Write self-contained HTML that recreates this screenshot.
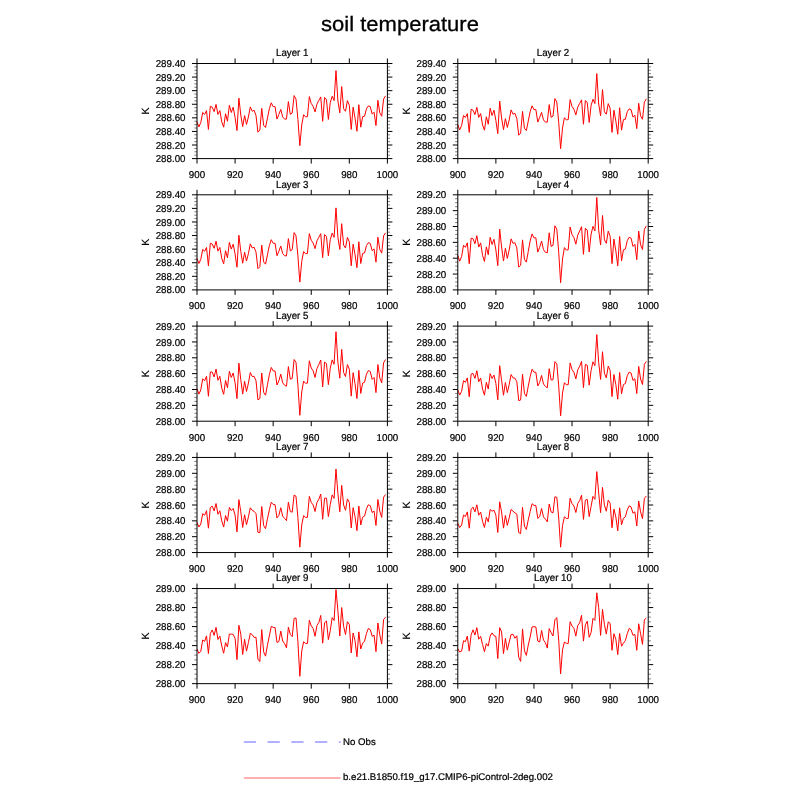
<!DOCTYPE html>
<html><head><meta charset="utf-8"><title>soil temperature</title>
<style>html,body{margin:0;padding:0;background:#fff}svg{display:block}text{text-rendering:geometricPrecision;font-family:"Liberation Sans",Arial,Helvetica,sans-serif;fill:#000}</style>
</head><body>
<svg width="800" height="800" viewBox="0 0 800 800">
<rect width="800" height="800" fill="#fff"/>
<text transform="translate(400,31.0) scale(1.058,1)" font-size="20.8" text-anchor="middle" stroke="#000" stroke-width="0.3">soil temperature</text>
<g>
<polyline points="197.00,121.60 198.90,126.90 200.81,122.50 202.71,112.50 204.62,114.40 206.52,110.60 208.42,129.40 210.33,106.25 212.23,107.20 214.14,111.60 216.04,104.40 217.94,114.40 219.85,110.60 221.75,121.90 223.66,127.20 225.56,113.75 227.46,121.25 229.37,105.30 231.27,112.50 233.18,107.20 235.08,117.50 236.98,130.60 238.89,98.10 240.79,115.00 242.70,126.60 244.60,115.60 246.50,124.40 248.41,116.90 250.31,106.90 252.22,111.25 254.12,110.30 256.02,115.60 257.93,132.20 259.83,130.00 261.74,108.40 263.64,125.30 265.54,127.50 267.45,118.10 269.35,108.75 271.26,102.80 273.16,106.60 275.06,106.60 276.97,119.10 278.87,114.40 280.78,109.40 282.68,116.90 284.58,119.10 286.49,119.10 288.39,101.60 290.30,114.40 292.20,113.00 294.10,95.60 296.01,99.10 297.91,119.40 299.82,145.70 301.72,125.00 303.62,114.70 305.53,116.90 307.43,116.60 309.34,96.60 311.24,103.50 313.14,106.25 315.05,111.90 316.95,104.10 318.86,100.40 320.76,96.90 322.66,121.25 324.57,97.50 326.47,99.70 328.38,119.40 330.28,102.50 332.18,96.25 334.09,100.60 335.99,70.60 337.90,101.00 339.80,112.80 341.70,86.60 343.61,108.75 345.51,111.25 347.42,100.60 349.32,105.30 351.22,129.40 353.13,107.20 355.03,118.10 356.94,131.25 358.84,104.70 360.74,127.20 362.65,116.60 364.55,116.25 366.46,108.75 368.36,105.90 370.26,106.60 372.17,114.10 374.07,112.20 375.98,125.60 377.88,100.30 379.78,112.80 381.69,116.25 383.59,99.10 385.50,95.90" fill="none" stroke="#f00" stroke-width="1" stroke-linejoin="miter"/>
<path d="M194.30 155.20H197.00M387.40 155.20H390.10M194.30 151.81H197.00M387.40 151.81H390.10M194.30 148.41H197.00M387.40 148.41H390.10M194.30 141.62H197.00M387.40 141.62H390.10M194.30 138.22H197.00M387.40 138.22H390.10M194.30 134.82H197.00M387.40 134.82H390.10M194.30 128.03H197.00M387.40 128.03H390.10M194.30 124.64H197.00M387.40 124.64H390.10M194.30 121.24H197.00M387.40 121.24H390.10M194.30 114.45H197.00M387.40 114.45H390.10M194.30 111.05H197.00M387.40 111.05H390.10M194.30 107.65H197.00M387.40 107.65H390.10M194.30 100.86H197.00M387.40 100.86H390.10M194.30 97.46H197.00M387.40 97.46H390.10M194.30 94.07H197.00M387.40 94.07H390.10M194.30 87.27H197.00M387.40 87.27H390.10M194.30 83.88H197.00M387.40 83.88H390.10M194.30 80.48H197.00M387.40 80.48H390.10M194.30 73.69H197.00M387.40 73.69H390.10M194.30 70.29H197.00M387.40 70.29H390.10M194.30 66.90H197.00M387.40 66.90H390.10" stroke="#000" stroke-width="0.5" fill="none"/>
<path d="M192.00 158.60H197.00M387.40 158.60H392.40M192.00 145.01H197.00M387.40 145.01H392.40M192.00 131.43H197.00M387.40 131.43H392.40M192.00 117.84H197.00M387.40 117.84H392.40M192.00 104.26H197.00M387.40 104.26H392.40M192.00 90.67H197.00M387.40 90.67H392.40M192.00 77.09H197.00M387.40 77.09H392.40M192.00 63.50H197.00M387.40 63.50H392.40M197.00 58.50V63.50M197.00 158.60V163.60M235.08 58.50V63.50M235.08 158.60V163.60M273.16 58.50V63.50M273.16 158.60V163.60M311.24 58.50V63.50M311.24 158.60V163.60M349.32 58.50V63.50M349.32 158.60V163.60M387.40 58.50V63.50M387.40 158.60V163.60" stroke="#000" stroke-width="1" fill="none"/>
<rect x="197.00" y="63.50" width="190.40" height="95.10" fill="none" stroke="#000" stroke-width="1"/>
<text transform="translate(185.50,162.15) scale(0.975,1)" font-size="10" text-anchor="end" stroke="#000" stroke-width="0.22">288.00</text>
<text transform="translate(185.50,148.56) scale(0.975,1)" font-size="10" text-anchor="end" stroke="#000" stroke-width="0.22">288.20</text>
<text transform="translate(185.50,134.98) scale(0.975,1)" font-size="10" text-anchor="end" stroke="#000" stroke-width="0.22">288.40</text>
<text transform="translate(185.50,121.39) scale(0.975,1)" font-size="10" text-anchor="end" stroke="#000" stroke-width="0.22">288.60</text>
<text transform="translate(185.50,107.81) scale(0.975,1)" font-size="10" text-anchor="end" stroke="#000" stroke-width="0.22">288.80</text>
<text transform="translate(185.50,94.22) scale(0.975,1)" font-size="10" text-anchor="end" stroke="#000" stroke-width="0.22">289.00</text>
<text transform="translate(185.50,80.64) scale(0.975,1)" font-size="10" text-anchor="end" stroke="#000" stroke-width="0.22">289.20</text>
<text transform="translate(185.50,67.05) scale(0.975,1)" font-size="10" text-anchor="end" stroke="#000" stroke-width="0.22">289.40</text>
<text transform="translate(197.00,177.90) scale(0.975,1)" font-size="10" text-anchor="middle" stroke="#000" stroke-width="0.22">900</text>
<text transform="translate(235.08,177.90) scale(0.975,1)" font-size="10" text-anchor="middle" stroke="#000" stroke-width="0.22">920</text>
<text transform="translate(273.16,177.90) scale(0.975,1)" font-size="10" text-anchor="middle" stroke="#000" stroke-width="0.22">940</text>
<text transform="translate(311.24,177.90) scale(0.975,1)" font-size="10" text-anchor="middle" stroke="#000" stroke-width="0.22">960</text>
<text transform="translate(349.32,177.90) scale(0.975,1)" font-size="10" text-anchor="middle" stroke="#000" stroke-width="0.22">980</text>
<text transform="translate(387.40,177.90) scale(0.975,1)" font-size="10" text-anchor="middle" stroke="#000" stroke-width="0.22">1000</text>
<text transform="translate(292.20,56.20) scale(0.955,1)" font-size="10.2" text-anchor="middle" stroke="#000" stroke-width="0.22">Layer 1</text>
<text transform="translate(149.00,111.05) rotate(-90)" font-size="10.5" text-anchor="middle" stroke="#000" stroke-width="0.1">K</text>
</g>
<g>
<polyline points="457.80,124.60 459.70,129.90 461.61,125.50 463.51,115.50 465.42,117.40 467.32,113.60 469.22,132.40 471.13,109.25 473.03,110.20 474.94,114.60 476.84,107.40 478.74,117.40 480.65,113.60 482.55,124.90 484.46,130.20 486.36,116.75 488.26,124.25 490.17,108.30 492.07,115.50 493.98,110.20 495.88,120.50 497.78,133.60 499.69,101.10 501.59,118.00 503.50,129.60 505.40,118.60 507.30,127.40 509.21,119.90 511.11,109.90 513.02,114.25 514.92,113.30 516.82,118.60 518.73,135.20 520.63,133.00 522.54,111.40 524.44,128.30 526.34,130.50 528.25,121.10 530.15,111.75 532.06,105.80 533.96,109.60 535.86,109.60 537.77,122.10 539.67,117.40 541.58,112.40 543.48,119.90 545.38,122.10 547.29,122.10 549.19,104.60 551.10,117.40 553.00,116.00 554.90,98.60 556.81,102.10 558.71,122.40 560.62,148.70 562.52,128.00 564.42,117.70 566.33,119.90 568.23,119.60 570.14,99.60 572.04,106.50 573.94,109.25 575.85,114.90 577.75,107.10 579.66,103.40 581.56,99.90 583.46,124.25 585.37,100.50 587.27,102.70 589.18,122.40 591.08,105.50 592.98,99.25 594.89,103.60 596.79,73.60 598.70,104.00 600.60,115.80 602.50,89.60 604.41,111.75 606.31,114.25 608.22,103.60 610.12,108.30 612.02,132.40 613.93,110.20 615.83,121.10 617.74,134.25 619.64,107.70 621.54,130.20 623.45,119.60 625.35,119.25 627.26,111.75 629.16,108.90 631.06,109.60 632.97,117.10 634.87,115.20 636.78,128.60 638.68,103.30 640.58,115.80 642.49,119.25 644.39,102.10 646.30,98.90" fill="none" stroke="#f00" stroke-width="1" stroke-linejoin="miter"/>
<path d="M455.10 155.20H457.80M648.20 155.20H650.90M455.10 151.81H457.80M648.20 151.81H650.90M455.10 148.41H457.80M648.20 148.41H650.90M455.10 141.62H457.80M648.20 141.62H650.90M455.10 138.22H457.80M648.20 138.22H650.90M455.10 134.82H457.80M648.20 134.82H650.90M455.10 128.03H457.80M648.20 128.03H650.90M455.10 124.64H457.80M648.20 124.64H650.90M455.10 121.24H457.80M648.20 121.24H650.90M455.10 114.45H457.80M648.20 114.45H650.90M455.10 111.05H457.80M648.20 111.05H650.90M455.10 107.65H457.80M648.20 107.65H650.90M455.10 100.86H457.80M648.20 100.86H650.90M455.10 97.46H457.80M648.20 97.46H650.90M455.10 94.07H457.80M648.20 94.07H650.90M455.10 87.27H457.80M648.20 87.27H650.90M455.10 83.88H457.80M648.20 83.88H650.90M455.10 80.48H457.80M648.20 80.48H650.90M455.10 73.69H457.80M648.20 73.69H650.90M455.10 70.29H457.80M648.20 70.29H650.90M455.10 66.90H457.80M648.20 66.90H650.90" stroke="#000" stroke-width="0.5" fill="none"/>
<path d="M452.80 158.60H457.80M648.20 158.60H653.20M452.80 145.01H457.80M648.20 145.01H653.20M452.80 131.43H457.80M648.20 131.43H653.20M452.80 117.84H457.80M648.20 117.84H653.20M452.80 104.26H457.80M648.20 104.26H653.20M452.80 90.67H457.80M648.20 90.67H653.20M452.80 77.09H457.80M648.20 77.09H653.20M452.80 63.50H457.80M648.20 63.50H653.20M457.80 58.50V63.50M457.80 158.60V163.60M495.88 58.50V63.50M495.88 158.60V163.60M533.96 58.50V63.50M533.96 158.60V163.60M572.04 58.50V63.50M572.04 158.60V163.60M610.12 58.50V63.50M610.12 158.60V163.60M648.20 58.50V63.50M648.20 158.60V163.60" stroke="#000" stroke-width="1" fill="none"/>
<rect x="457.80" y="63.50" width="190.40" height="95.10" fill="none" stroke="#000" stroke-width="1"/>
<text transform="translate(446.30,162.15) scale(0.975,1)" font-size="10" text-anchor="end" stroke="#000" stroke-width="0.22">288.00</text>
<text transform="translate(446.30,148.56) scale(0.975,1)" font-size="10" text-anchor="end" stroke="#000" stroke-width="0.22">288.20</text>
<text transform="translate(446.30,134.98) scale(0.975,1)" font-size="10" text-anchor="end" stroke="#000" stroke-width="0.22">288.40</text>
<text transform="translate(446.30,121.39) scale(0.975,1)" font-size="10" text-anchor="end" stroke="#000" stroke-width="0.22">288.60</text>
<text transform="translate(446.30,107.81) scale(0.975,1)" font-size="10" text-anchor="end" stroke="#000" stroke-width="0.22">288.80</text>
<text transform="translate(446.30,94.22) scale(0.975,1)" font-size="10" text-anchor="end" stroke="#000" stroke-width="0.22">289.00</text>
<text transform="translate(446.30,80.64) scale(0.975,1)" font-size="10" text-anchor="end" stroke="#000" stroke-width="0.22">289.20</text>
<text transform="translate(446.30,67.05) scale(0.975,1)" font-size="10" text-anchor="end" stroke="#000" stroke-width="0.22">289.40</text>
<text transform="translate(457.80,177.90) scale(0.975,1)" font-size="10" text-anchor="middle" stroke="#000" stroke-width="0.22">900</text>
<text transform="translate(495.88,177.90) scale(0.975,1)" font-size="10" text-anchor="middle" stroke="#000" stroke-width="0.22">920</text>
<text transform="translate(533.96,177.90) scale(0.975,1)" font-size="10" text-anchor="middle" stroke="#000" stroke-width="0.22">940</text>
<text transform="translate(572.04,177.90) scale(0.975,1)" font-size="10" text-anchor="middle" stroke="#000" stroke-width="0.22">960</text>
<text transform="translate(610.12,177.90) scale(0.975,1)" font-size="10" text-anchor="middle" stroke="#000" stroke-width="0.22">980</text>
<text transform="translate(648.20,177.90) scale(0.975,1)" font-size="10" text-anchor="middle" stroke="#000" stroke-width="0.22">1000</text>
<text transform="translate(553.00,56.20) scale(0.955,1)" font-size="10.2" text-anchor="middle" stroke="#000" stroke-width="0.22">Layer 2</text>
<text transform="translate(409.80,111.05) rotate(-90)" font-size="10.5" text-anchor="middle" stroke="#000" stroke-width="0.1">K</text>
</g>
<g>
<polyline points="197.00,258.32 198.90,263.47 200.81,259.26 202.71,249.40 204.62,251.24 206.52,247.42 208.42,265.80 210.33,243.25 212.23,243.97 214.14,248.33 216.04,241.23 217.94,251.14 219.85,247.44 221.75,258.45 223.66,263.74 225.56,250.69 227.46,257.89 229.37,242.40 231.27,249.11 233.18,244.19 235.08,253.97 236.98,267.22 238.89,235.26 240.79,251.44 242.70,263.24 244.60,252.25 246.50,261.03 248.41,253.62 250.31,243.86 252.22,247.97 254.12,247.22 256.02,252.15 257.93,268.69 259.83,266.75 261.74,245.07 263.64,261.90 265.54,264.16 267.45,254.87 269.35,245.71 271.26,239.69 273.16,243.28 275.06,243.29 276.97,255.67 278.87,251.25 280.78,246.07 282.68,253.54 284.58,255.72 286.49,255.93 288.39,238.62 290.30,250.89 292.20,249.70 294.10,232.60 296.01,235.83 297.91,255.91 299.82,282.10 301.72,261.59 303.62,251.53 305.53,253.66 307.43,253.39 309.34,233.62 311.24,240.32 313.14,243.01 315.05,248.66 316.95,240.86 318.86,237.26 320.76,233.66 322.66,257.70 324.57,234.59 326.47,236.54 328.38,255.81 330.28,239.62 332.18,233.16 334.09,237.36 335.99,207.90 337.90,237.26 339.80,249.48 341.70,223.68 343.61,245.23 345.51,247.97 347.42,237.42 349.32,241.93 351.22,265.77 353.13,244.11 355.03,254.64 356.94,267.68 358.84,241.73 360.74,263.53 362.65,253.37 364.55,252.95 366.46,245.58 368.36,242.68 370.26,243.39 372.17,250.71 374.07,248.88 375.98,262.17 377.88,237.20 379.78,249.42 381.69,253.09 383.59,235.91 385.50,232.82" fill="none" stroke="#f00" stroke-width="1" stroke-linejoin="miter"/>
<path d="M194.30 286.50H197.00M387.40 286.50H390.10M194.30 283.11H197.00M387.40 283.11H390.10M194.30 279.71H197.00M387.40 279.71H390.10M194.30 272.92H197.00M387.40 272.92H390.10M194.30 269.52H197.00M387.40 269.52H390.10M194.30 266.12H197.00M387.40 266.12H390.10M194.30 259.33H197.00M387.40 259.33H390.10M194.30 255.94H197.00M387.40 255.94H390.10M194.30 252.54H197.00M387.40 252.54H390.10M194.30 245.75H197.00M387.40 245.75H390.10M194.30 242.35H197.00M387.40 242.35H390.10M194.30 238.95H197.00M387.40 238.95H390.10M194.30 232.16H197.00M387.40 232.16H390.10M194.30 228.76H197.00M387.40 228.76H390.10M194.30 225.37H197.00M387.40 225.37H390.10M194.30 218.57H197.00M387.40 218.57H390.10M194.30 215.18H197.00M387.40 215.18H390.10M194.30 211.78H197.00M387.40 211.78H390.10M194.30 204.99H197.00M387.40 204.99H390.10M194.30 201.59H197.00M387.40 201.59H390.10M194.30 198.20H197.00M387.40 198.20H390.10" stroke="#000" stroke-width="0.5" fill="none"/>
<path d="M192.00 289.90H197.00M387.40 289.90H392.40M192.00 276.31H197.00M387.40 276.31H392.40M192.00 262.73H197.00M387.40 262.73H392.40M192.00 249.14H197.00M387.40 249.14H392.40M192.00 235.56H197.00M387.40 235.56H392.40M192.00 221.97H197.00M387.40 221.97H392.40M192.00 208.39H197.00M387.40 208.39H392.40M192.00 194.80H197.00M387.40 194.80H392.40M197.00 189.80V194.80M197.00 289.90V294.90M235.08 189.80V194.80M235.08 289.90V294.90M273.16 189.80V194.80M273.16 289.90V294.90M311.24 189.80V194.80M311.24 289.90V294.90M349.32 189.80V194.80M349.32 289.90V294.90M387.40 189.80V194.80M387.40 289.90V294.90" stroke="#000" stroke-width="1" fill="none"/>
<rect x="197.00" y="194.80" width="190.40" height="95.10" fill="none" stroke="#000" stroke-width="1"/>
<text transform="translate(185.50,293.45) scale(0.975,1)" font-size="10" text-anchor="end" stroke="#000" stroke-width="0.22">288.00</text>
<text transform="translate(185.50,279.86) scale(0.975,1)" font-size="10" text-anchor="end" stroke="#000" stroke-width="0.22">288.20</text>
<text transform="translate(185.50,266.28) scale(0.975,1)" font-size="10" text-anchor="end" stroke="#000" stroke-width="0.22">288.40</text>
<text transform="translate(185.50,252.69) scale(0.975,1)" font-size="10" text-anchor="end" stroke="#000" stroke-width="0.22">288.60</text>
<text transform="translate(185.50,239.11) scale(0.975,1)" font-size="10" text-anchor="end" stroke="#000" stroke-width="0.22">288.80</text>
<text transform="translate(185.50,225.52) scale(0.975,1)" font-size="10" text-anchor="end" stroke="#000" stroke-width="0.22">289.00</text>
<text transform="translate(185.50,211.94) scale(0.975,1)" font-size="10" text-anchor="end" stroke="#000" stroke-width="0.22">289.20</text>
<text transform="translate(185.50,198.35) scale(0.975,1)" font-size="10" text-anchor="end" stroke="#000" stroke-width="0.22">289.40</text>
<text transform="translate(197.00,309.20) scale(0.975,1)" font-size="10" text-anchor="middle" stroke="#000" stroke-width="0.22">900</text>
<text transform="translate(235.08,309.20) scale(0.975,1)" font-size="10" text-anchor="middle" stroke="#000" stroke-width="0.22">920</text>
<text transform="translate(273.16,309.20) scale(0.975,1)" font-size="10" text-anchor="middle" stroke="#000" stroke-width="0.22">940</text>
<text transform="translate(311.24,309.20) scale(0.975,1)" font-size="10" text-anchor="middle" stroke="#000" stroke-width="0.22">960</text>
<text transform="translate(349.32,309.20) scale(0.975,1)" font-size="10" text-anchor="middle" stroke="#000" stroke-width="0.22">980</text>
<text transform="translate(387.40,309.20) scale(0.975,1)" font-size="10" text-anchor="middle" stroke="#000" stroke-width="0.22">1000</text>
<text transform="translate(292.20,187.50) scale(0.955,1)" font-size="10.2" text-anchor="middle" stroke="#000" stroke-width="0.22">Layer 3</text>
<text transform="translate(149.00,242.35) rotate(-90)" font-size="10.5" text-anchor="middle" stroke="#000" stroke-width="0.1">K</text>
</g>
<g>
<polyline points="457.80,255.40 459.70,261.19 461.61,256.57 463.51,245.25 465.42,247.30 467.32,242.84 469.22,263.69 471.13,238.23 473.03,238.73 474.94,243.78 476.84,235.63 478.74,247.06 480.65,242.87 482.55,255.31 484.46,261.47 486.36,246.82 488.26,254.79 490.17,237.37 492.07,244.49 493.98,239.30 495.88,249.99 497.78,265.65 499.69,229.13 501.59,246.99 503.50,261.04 505.40,248.22 507.30,258.43 509.21,249.91 511.11,238.87 513.02,243.33 514.92,242.74 516.82,247.97 518.73,267.17 520.63,265.30 522.54,239.88 524.44,259.42 526.34,262.14 528.25,251.45 530.15,241.02 532.06,233.92 533.96,237.81 535.86,237.84 537.77,252.09 539.67,247.33 541.58,241.06 543.48,249.73 545.38,252.24 547.29,252.77 549.19,232.83 551.10,246.43 553.00,245.31 554.90,225.80 556.81,229.19 558.71,252.31 560.62,282.70 562.52,259.03 564.42,247.64 566.33,250.04 568.23,249.76 570.14,227.01 572.04,234.55 573.94,237.60 575.85,244.18 577.75,235.11 579.66,231.05 581.56,226.70 583.46,254.31 585.37,228.24 587.27,230.16 589.18,252.04 591.08,234.15 592.98,226.33 594.89,231.00 596.79,197.40 598.70,230.18 600.60,245.05 602.50,215.51 604.41,239.81 606.31,243.32 608.22,231.16 610.12,236.15 612.02,263.61 613.93,239.11 615.83,250.87 617.74,265.93 619.64,236.50 621.54,260.95 623.45,249.71 625.35,249.11 627.26,240.71 629.16,237.25 631.06,238.10 632.97,246.38 634.87,244.33 636.78,259.69 638.68,231.03 640.58,244.89 642.49,249.47 644.39,229.40 646.30,225.94" fill="none" stroke="#f00" stroke-width="1" stroke-linejoin="miter"/>
<path d="M455.10 285.94H457.80M648.20 285.94H650.90M455.10 281.97H457.80M648.20 281.97H650.90M455.10 278.01H457.80M648.20 278.01H650.90M455.10 270.09H457.80M648.20 270.09H650.90M455.10 266.12H457.80M648.20 266.12H650.90M455.10 262.16H457.80M648.20 262.16H650.90M455.10 254.24H457.80M648.20 254.24H650.90M455.10 250.27H457.80M648.20 250.27H650.90M455.10 246.31H457.80M648.20 246.31H650.90M455.10 238.39H457.80M648.20 238.39H650.90M455.10 234.42H457.80M648.20 234.42H650.90M455.10 230.46H457.80M648.20 230.46H650.90M455.10 222.54H457.80M648.20 222.54H650.90M455.10 218.57H457.80M648.20 218.57H650.90M455.10 214.61H457.80M648.20 214.61H650.90M455.10 206.69H457.80M648.20 206.69H650.90M455.10 202.72H457.80M648.20 202.72H650.90M455.10 198.76H457.80M648.20 198.76H650.90" stroke="#000" stroke-width="0.5" fill="none"/>
<path d="M452.80 289.90H457.80M648.20 289.90H653.20M452.80 274.05H457.80M648.20 274.05H653.20M452.80 258.20H457.80M648.20 258.20H653.20M452.80 242.35H457.80M648.20 242.35H653.20M452.80 226.50H457.80M648.20 226.50H653.20M452.80 210.65H457.80M648.20 210.65H653.20M452.80 194.80H457.80M648.20 194.80H653.20M457.80 189.80V194.80M457.80 289.90V294.90M495.88 189.80V194.80M495.88 289.90V294.90M533.96 189.80V194.80M533.96 289.90V294.90M572.04 189.80V194.80M572.04 289.90V294.90M610.12 189.80V194.80M610.12 289.90V294.90M648.20 189.80V194.80M648.20 289.90V294.90" stroke="#000" stroke-width="1" fill="none"/>
<rect x="457.80" y="194.80" width="190.40" height="95.10" fill="none" stroke="#000" stroke-width="1"/>
<text transform="translate(446.30,293.45) scale(0.975,1)" font-size="10" text-anchor="end" stroke="#000" stroke-width="0.22">288.00</text>
<text transform="translate(446.30,277.60) scale(0.975,1)" font-size="10" text-anchor="end" stroke="#000" stroke-width="0.22">288.20</text>
<text transform="translate(446.30,261.75) scale(0.975,1)" font-size="10" text-anchor="end" stroke="#000" stroke-width="0.22">288.40</text>
<text transform="translate(446.30,245.90) scale(0.975,1)" font-size="10" text-anchor="end" stroke="#000" stroke-width="0.22">288.60</text>
<text transform="translate(446.30,230.05) scale(0.975,1)" font-size="10" text-anchor="end" stroke="#000" stroke-width="0.22">288.80</text>
<text transform="translate(446.30,214.20) scale(0.975,1)" font-size="10" text-anchor="end" stroke="#000" stroke-width="0.22">289.00</text>
<text transform="translate(446.30,198.35) scale(0.975,1)" font-size="10" text-anchor="end" stroke="#000" stroke-width="0.22">289.20</text>
<text transform="translate(457.80,309.20) scale(0.975,1)" font-size="10" text-anchor="middle" stroke="#000" stroke-width="0.22">900</text>
<text transform="translate(495.88,309.20) scale(0.975,1)" font-size="10" text-anchor="middle" stroke="#000" stroke-width="0.22">920</text>
<text transform="translate(533.96,309.20) scale(0.975,1)" font-size="10" text-anchor="middle" stroke="#000" stroke-width="0.22">940</text>
<text transform="translate(572.04,309.20) scale(0.975,1)" font-size="10" text-anchor="middle" stroke="#000" stroke-width="0.22">960</text>
<text transform="translate(610.12,309.20) scale(0.975,1)" font-size="10" text-anchor="middle" stroke="#000" stroke-width="0.22">980</text>
<text transform="translate(648.20,309.20) scale(0.975,1)" font-size="10" text-anchor="middle" stroke="#000" stroke-width="0.22">1000</text>
<text transform="translate(553.00,187.50) scale(0.955,1)" font-size="10.2" text-anchor="middle" stroke="#000" stroke-width="0.22">Layer 4</text>
<text transform="translate(409.80,242.35) rotate(-90)" font-size="10.5" text-anchor="middle" stroke="#000" stroke-width="0.1">K</text>
</g>
<g>
<polyline points="197.00,388.59 198.90,394.11 200.81,389.85 202.71,378.79 204.62,380.72 206.52,376.24 208.42,396.29 210.33,371.97 212.23,372.02 214.14,377.01 216.04,369.04 217.94,380.31 219.85,376.29 221.75,388.19 223.66,394.33 225.56,380.44 227.46,387.85 229.37,371.30 231.27,377.48 233.18,373.01 235.08,382.73 236.98,398.66 238.89,363.17 240.79,379.66 242.70,394.09 244.60,381.29 246.50,391.46 248.41,383.11 250.31,372.53 252.22,376.53 254.12,376.32 256.02,380.85 257.93,399.93 259.83,398.57 261.74,372.99 263.64,392.40 265.54,395.23 267.45,384.74 269.35,374.67 271.26,367.45 273.16,370.94 275.06,370.99 276.97,385.01 278.87,380.77 280.78,374.17 282.68,382.79 284.58,385.26 286.49,386.18 288.39,366.60 290.30,379.20 292.20,378.47 294.10,359.53 296.01,362.43 297.91,385.12 299.82,415.30 301.72,391.98 303.62,381.05 305.53,383.32 307.43,383.09 309.34,360.78 311.24,367.95 313.14,370.88 315.05,377.46 316.95,368.39 318.86,364.53 320.76,359.99 322.66,387.01 324.57,362.14 326.47,363.59 328.38,384.65 330.28,368.10 332.18,359.90 334.09,364.28 335.99,331.70 337.90,362.51 339.80,378.18 341.70,349.40 343.61,372.56 345.51,376.52 347.42,364.54 349.32,369.18 351.22,396.15 353.13,372.68 355.03,383.74 356.94,398.60 358.84,370.29 360.74,393.42 362.65,383.01 364.55,382.27 366.46,374.13 368.36,370.57 370.26,371.44 372.17,379.38 374.07,377.45 375.98,392.61 377.88,364.57 379.78,377.90 381.69,382.90 383.59,362.78 385.50,359.53" fill="none" stroke="#f00" stroke-width="1" stroke-linejoin="miter"/>
<path d="M194.30 417.24H197.00M387.40 417.24H390.10M194.30 413.28H197.00M387.40 413.28H390.10M194.30 409.31H197.00M387.40 409.31H390.10M194.30 401.39H197.00M387.40 401.39H390.10M194.30 397.43H197.00M387.40 397.43H390.10M194.30 393.46H197.00M387.40 393.46H390.10M194.30 385.54H197.00M387.40 385.54H390.10M194.30 381.58H197.00M387.40 381.58H390.10M194.30 377.61H197.00M387.40 377.61H390.10M194.30 369.69H197.00M387.40 369.69H390.10M194.30 365.73H197.00M387.40 365.73H390.10M194.30 361.76H197.00M387.40 361.76H390.10M194.30 353.84H197.00M387.40 353.84H390.10M194.30 349.88H197.00M387.40 349.88H390.10M194.30 345.91H197.00M387.40 345.91H390.10M194.30 337.99H197.00M387.40 337.99H390.10M194.30 334.03H197.00M387.40 334.03H390.10M194.30 330.06H197.00M387.40 330.06H390.10" stroke="#000" stroke-width="0.5" fill="none"/>
<path d="M192.00 421.20H197.00M387.40 421.20H392.40M192.00 405.35H197.00M387.40 405.35H392.40M192.00 389.50H197.00M387.40 389.50H392.40M192.00 373.65H197.00M387.40 373.65H392.40M192.00 357.80H197.00M387.40 357.80H392.40M192.00 341.95H197.00M387.40 341.95H392.40M192.00 326.10H197.00M387.40 326.10H392.40M197.00 321.10V326.10M197.00 421.20V426.20M235.08 321.10V326.10M235.08 421.20V426.20M273.16 321.10V326.10M273.16 421.20V426.20M311.24 321.10V326.10M311.24 421.20V426.20M349.32 321.10V326.10M349.32 421.20V426.20M387.40 321.10V326.10M387.40 421.20V426.20" stroke="#000" stroke-width="1" fill="none"/>
<rect x="197.00" y="326.10" width="190.40" height="95.10" fill="none" stroke="#000" stroke-width="1"/>
<text transform="translate(185.50,424.75) scale(0.975,1)" font-size="10" text-anchor="end" stroke="#000" stroke-width="0.22">288.00</text>
<text transform="translate(185.50,408.90) scale(0.975,1)" font-size="10" text-anchor="end" stroke="#000" stroke-width="0.22">288.20</text>
<text transform="translate(185.50,393.05) scale(0.975,1)" font-size="10" text-anchor="end" stroke="#000" stroke-width="0.22">288.40</text>
<text transform="translate(185.50,377.20) scale(0.975,1)" font-size="10" text-anchor="end" stroke="#000" stroke-width="0.22">288.60</text>
<text transform="translate(185.50,361.35) scale(0.975,1)" font-size="10" text-anchor="end" stroke="#000" stroke-width="0.22">288.80</text>
<text transform="translate(185.50,345.50) scale(0.975,1)" font-size="10" text-anchor="end" stroke="#000" stroke-width="0.22">289.00</text>
<text transform="translate(185.50,329.65) scale(0.975,1)" font-size="10" text-anchor="end" stroke="#000" stroke-width="0.22">289.20</text>
<text transform="translate(197.00,440.50) scale(0.975,1)" font-size="10" text-anchor="middle" stroke="#000" stroke-width="0.22">900</text>
<text transform="translate(235.08,440.50) scale(0.975,1)" font-size="10" text-anchor="middle" stroke="#000" stroke-width="0.22">920</text>
<text transform="translate(273.16,440.50) scale(0.975,1)" font-size="10" text-anchor="middle" stroke="#000" stroke-width="0.22">940</text>
<text transform="translate(311.24,440.50) scale(0.975,1)" font-size="10" text-anchor="middle" stroke="#000" stroke-width="0.22">960</text>
<text transform="translate(349.32,440.50) scale(0.975,1)" font-size="10" text-anchor="middle" stroke="#000" stroke-width="0.22">980</text>
<text transform="translate(387.40,440.50) scale(0.975,1)" font-size="10" text-anchor="middle" stroke="#000" stroke-width="0.22">1000</text>
<text transform="translate(292.20,318.80) scale(0.955,1)" font-size="10.2" text-anchor="middle" stroke="#000" stroke-width="0.22">Layer 5</text>
<text transform="translate(149.00,373.65) rotate(-90)" font-size="10.5" text-anchor="middle" stroke="#000" stroke-width="0.1">K</text>
</g>
<g>
<polyline points="457.80,389.94 459.70,395.05 461.61,391.32 463.51,380.62 465.42,382.38 467.32,377.88 469.22,396.79 471.13,374.08 473.03,373.50 474.94,378.40 476.84,370.69 478.74,381.72 480.65,377.96 482.55,389.08 484.46,395.20 486.36,382.38 488.26,388.99 490.17,373.67 492.07,378.53 493.98,375.09 495.88,383.43 497.78,399.74 499.69,365.70 501.59,380.27 503.50,395.24 505.40,382.46 507.30,392.56 509.21,384.45 511.11,374.52 513.02,377.89 514.92,378.21 516.82,381.75 518.73,400.66 520.63,400.01 522.54,374.21 524.44,393.44 526.34,396.43 528.25,386.23 530.15,376.65 532.06,369.26 533.96,372.20 535.86,372.28 537.77,385.95 539.67,382.46 541.58,375.40 543.48,383.94 545.38,386.35 547.29,387.82 549.19,368.74 551.10,379.96 553.00,379.75 554.90,361.63 556.81,363.82 558.71,385.92 560.62,415.80 562.52,392.98 564.42,382.70 566.33,384.79 568.23,384.64 570.14,362.93 572.04,369.58 573.94,372.33 575.85,378.91 577.75,369.87 579.66,366.27 581.56,361.46 583.46,387.66 585.37,364.47 587.27,365.26 589.18,385.18 591.08,370.52 592.98,361.77 594.89,365.73 596.79,334.60 598.70,362.63 600.60,379.43 602.50,351.72 604.41,373.29 606.31,377.86 608.22,366.16 610.12,370.28 612.02,396.58 613.93,374.55 615.83,384.62 617.74,399.19 619.64,372.48 621.54,393.75 623.45,384.50 625.35,383.56 627.26,375.78 629.16,372.09 631.06,373.00 632.97,380.44 634.87,378.69 636.78,393.56 638.68,366.41 640.58,378.99 642.49,384.57 644.39,364.38 646.30,361.42" fill="none" stroke="#f00" stroke-width="1" stroke-linejoin="miter"/>
<path d="M455.10 417.24H457.80M648.20 417.24H650.90M455.10 413.28H457.80M648.20 413.28H650.90M455.10 409.31H457.80M648.20 409.31H650.90M455.10 401.39H457.80M648.20 401.39H650.90M455.10 397.43H457.80M648.20 397.43H650.90M455.10 393.46H457.80M648.20 393.46H650.90M455.10 385.54H457.80M648.20 385.54H650.90M455.10 381.58H457.80M648.20 381.58H650.90M455.10 377.61H457.80M648.20 377.61H650.90M455.10 369.69H457.80M648.20 369.69H650.90M455.10 365.73H457.80M648.20 365.73H650.90M455.10 361.76H457.80M648.20 361.76H650.90M455.10 353.84H457.80M648.20 353.84H650.90M455.10 349.88H457.80M648.20 349.88H650.90M455.10 345.91H457.80M648.20 345.91H650.90M455.10 337.99H457.80M648.20 337.99H650.90M455.10 334.03H457.80M648.20 334.03H650.90M455.10 330.06H457.80M648.20 330.06H650.90" stroke="#000" stroke-width="0.5" fill="none"/>
<path d="M452.80 421.20H457.80M648.20 421.20H653.20M452.80 405.35H457.80M648.20 405.35H653.20M452.80 389.50H457.80M648.20 389.50H653.20M452.80 373.65H457.80M648.20 373.65H653.20M452.80 357.80H457.80M648.20 357.80H653.20M452.80 341.95H457.80M648.20 341.95H653.20M452.80 326.10H457.80M648.20 326.10H653.20M457.80 321.10V326.10M457.80 421.20V426.20M495.88 321.10V326.10M495.88 421.20V426.20M533.96 321.10V326.10M533.96 421.20V426.20M572.04 321.10V326.10M572.04 421.20V426.20M610.12 321.10V326.10M610.12 421.20V426.20M648.20 321.10V326.10M648.20 421.20V426.20" stroke="#000" stroke-width="1" fill="none"/>
<rect x="457.80" y="326.10" width="190.40" height="95.10" fill="none" stroke="#000" stroke-width="1"/>
<text transform="translate(446.30,424.75) scale(0.975,1)" font-size="10" text-anchor="end" stroke="#000" stroke-width="0.22">288.00</text>
<text transform="translate(446.30,408.90) scale(0.975,1)" font-size="10" text-anchor="end" stroke="#000" stroke-width="0.22">288.20</text>
<text transform="translate(446.30,393.05) scale(0.975,1)" font-size="10" text-anchor="end" stroke="#000" stroke-width="0.22">288.40</text>
<text transform="translate(446.30,377.20) scale(0.975,1)" font-size="10" text-anchor="end" stroke="#000" stroke-width="0.22">288.60</text>
<text transform="translate(446.30,361.35) scale(0.975,1)" font-size="10" text-anchor="end" stroke="#000" stroke-width="0.22">288.80</text>
<text transform="translate(446.30,345.50) scale(0.975,1)" font-size="10" text-anchor="end" stroke="#000" stroke-width="0.22">289.00</text>
<text transform="translate(446.30,329.65) scale(0.975,1)" font-size="10" text-anchor="end" stroke="#000" stroke-width="0.22">289.20</text>
<text transform="translate(457.80,440.50) scale(0.975,1)" font-size="10" text-anchor="middle" stroke="#000" stroke-width="0.22">900</text>
<text transform="translate(495.88,440.50) scale(0.975,1)" font-size="10" text-anchor="middle" stroke="#000" stroke-width="0.22">920</text>
<text transform="translate(533.96,440.50) scale(0.975,1)" font-size="10" text-anchor="middle" stroke="#000" stroke-width="0.22">940</text>
<text transform="translate(572.04,440.50) scale(0.975,1)" font-size="10" text-anchor="middle" stroke="#000" stroke-width="0.22">960</text>
<text transform="translate(610.12,440.50) scale(0.975,1)" font-size="10" text-anchor="middle" stroke="#000" stroke-width="0.22">980</text>
<text transform="translate(648.20,440.50) scale(0.975,1)" font-size="10" text-anchor="middle" stroke="#000" stroke-width="0.22">1000</text>
<text transform="translate(553.00,318.80) scale(0.955,1)" font-size="10.2" text-anchor="middle" stroke="#000" stroke-width="0.22">Layer 6</text>
<text transform="translate(409.80,373.65) rotate(-90)" font-size="10.5" text-anchor="middle" stroke="#000" stroke-width="0.1">K</text>
</g>
<g>
<polyline points="197.00,522.39 198.90,527.00 200.81,523.93 202.71,513.69 204.62,515.23 206.52,510.69 208.42,528.19 210.33,507.49 212.23,506.12 214.14,510.92 216.04,503.53 217.94,514.26 219.85,510.81 221.75,520.97 223.66,527.07 225.56,515.58 227.46,521.19 229.37,507.42 231.27,510.61 233.18,508.45 235.08,515.08 236.98,531.87 238.89,499.63 240.79,511.81 242.70,527.44 244.60,514.68 246.50,524.71 248.41,516.90 250.31,507.78 252.22,510.35 254.12,511.35 256.02,513.65 257.93,532.35 259.83,532.60 261.74,506.51 263.64,525.52 265.54,528.70 267.45,518.85 269.35,509.90 271.26,502.30 273.16,504.54 275.06,504.65 276.97,517.91 278.87,515.35 280.78,507.72 282.68,516.15 284.58,518.49 286.49,520.65 288.39,502.19 290.30,511.67 292.20,512.14 294.10,495.03 296.01,496.34 297.91,517.70 299.82,547.20 301.72,525.00 303.62,515.54 305.53,517.41 307.43,517.34 309.34,496.40 311.24,502.39 313.14,504.93 315.05,511.50 316.95,502.48 318.86,499.22 320.76,494.07 322.66,519.24 324.57,498.17 326.47,498.12 328.38,516.60 330.28,504.31 332.18,494.89 334.09,498.32 335.99,469.00 337.90,493.55 339.80,511.78 341.70,485.39 343.61,504.97 345.51,510.31 347.42,498.95 349.32,502.44 351.22,527.88 353.13,507.67 355.03,516.50 356.94,530.71 358.84,505.99 360.74,524.93 362.65,517.14 364.55,515.95 366.46,508.63 368.36,504.77 370.26,505.71 372.17,512.54 374.07,511.02 375.98,525.53 377.88,499.49 379.78,511.13 381.69,517.44 383.59,497.16 385.50,494.55" fill="none" stroke="#f00" stroke-width="1" stroke-linejoin="miter"/>
<path d="M194.30 548.59H197.00M387.40 548.59H390.10M194.30 544.62H197.00M387.40 544.62H390.10M194.30 540.66H197.00M387.40 540.66H390.10M194.30 532.74H197.00M387.40 532.74H390.10M194.30 528.77H197.00M387.40 528.77H390.10M194.30 524.81H197.00M387.40 524.81H390.10M194.30 516.89H197.00M387.40 516.89H390.10M194.30 512.92H197.00M387.40 512.92H390.10M194.30 508.96H197.00M387.40 508.96H390.10M194.30 501.04H197.00M387.40 501.04H390.10M194.30 497.07H197.00M387.40 497.07H390.10M194.30 493.11H197.00M387.40 493.11H390.10M194.30 485.19H197.00M387.40 485.19H390.10M194.30 481.22H197.00M387.40 481.22H390.10M194.30 477.26H197.00M387.40 477.26H390.10M194.30 469.34H197.00M387.40 469.34H390.10M194.30 465.37H197.00M387.40 465.37H390.10M194.30 461.41H197.00M387.40 461.41H390.10" stroke="#000" stroke-width="0.5" fill="none"/>
<path d="M192.00 552.55H197.00M387.40 552.55H392.40M192.00 536.70H197.00M387.40 536.70H392.40M192.00 520.85H197.00M387.40 520.85H392.40M192.00 505.00H197.00M387.40 505.00H392.40M192.00 489.15H197.00M387.40 489.15H392.40M192.00 473.30H197.00M387.40 473.30H392.40M192.00 457.45H197.00M387.40 457.45H392.40M197.00 452.45V457.45M197.00 552.55V557.55M235.08 452.45V457.45M235.08 552.55V557.55M273.16 452.45V457.45M273.16 552.55V557.55M311.24 452.45V457.45M311.24 552.55V557.55M349.32 452.45V457.45M349.32 552.55V557.55M387.40 452.45V457.45M387.40 552.55V557.55" stroke="#000" stroke-width="1" fill="none"/>
<rect x="197.00" y="457.45" width="190.40" height="95.10" fill="none" stroke="#000" stroke-width="1"/>
<text transform="translate(185.50,556.10) scale(0.975,1)" font-size="10" text-anchor="end" stroke="#000" stroke-width="0.22">288.00</text>
<text transform="translate(185.50,540.25) scale(0.975,1)" font-size="10" text-anchor="end" stroke="#000" stroke-width="0.22">288.20</text>
<text transform="translate(185.50,524.40) scale(0.975,1)" font-size="10" text-anchor="end" stroke="#000" stroke-width="0.22">288.40</text>
<text transform="translate(185.50,508.55) scale(0.975,1)" font-size="10" text-anchor="end" stroke="#000" stroke-width="0.22">288.60</text>
<text transform="translate(185.50,492.70) scale(0.975,1)" font-size="10" text-anchor="end" stroke="#000" stroke-width="0.22">288.80</text>
<text transform="translate(185.50,476.85) scale(0.975,1)" font-size="10" text-anchor="end" stroke="#000" stroke-width="0.22">289.00</text>
<text transform="translate(185.50,461.00) scale(0.975,1)" font-size="10" text-anchor="end" stroke="#000" stroke-width="0.22">289.20</text>
<text transform="translate(197.00,571.85) scale(0.975,1)" font-size="10" text-anchor="middle" stroke="#000" stroke-width="0.22">900</text>
<text transform="translate(235.08,571.85) scale(0.975,1)" font-size="10" text-anchor="middle" stroke="#000" stroke-width="0.22">920</text>
<text transform="translate(273.16,571.85) scale(0.975,1)" font-size="10" text-anchor="middle" stroke="#000" stroke-width="0.22">940</text>
<text transform="translate(311.24,571.85) scale(0.975,1)" font-size="10" text-anchor="middle" stroke="#000" stroke-width="0.22">960</text>
<text transform="translate(349.32,571.85) scale(0.975,1)" font-size="10" text-anchor="middle" stroke="#000" stroke-width="0.22">980</text>
<text transform="translate(387.40,571.85) scale(0.975,1)" font-size="10" text-anchor="middle" stroke="#000" stroke-width="0.22">1000</text>
<text transform="translate(292.20,450.15) scale(0.955,1)" font-size="10.2" text-anchor="middle" stroke="#000" stroke-width="0.22">Layer 7</text>
<text transform="translate(149.00,505.00) rotate(-90)" font-size="10.5" text-anchor="middle" stroke="#000" stroke-width="0.1">K</text>
</g>
<g>
<polyline points="457.80,523.30 459.70,527.48 461.61,524.97 463.51,515.13 465.42,516.49 467.32,511.92 469.22,528.19 471.13,509.24 473.03,507.18 474.94,511.89 476.84,504.78 478.74,515.24 480.65,512.07 482.55,521.39 484.46,527.47 486.36,517.14 488.26,521.89 490.17,509.44 492.07,511.21 493.98,510.16 495.88,515.29 497.78,532.50 499.69,501.83 501.59,511.92 503.50,528.14 505.40,515.40 507.30,525.36 509.21,517.81 511.11,509.39 513.02,511.27 514.92,512.85 516.82,514.08 518.73,532.60 520.63,533.62 522.54,507.29 524.44,526.10 526.34,529.46 528.25,519.92 530.15,511.50 532.06,503.73 533.96,505.35 535.86,505.50 537.77,518.39 539.67,516.64 541.58,508.51 543.48,516.86 545.38,519.14 547.29,521.89 549.19,503.97 551.10,511.94 553.00,512.99 554.90,496.77 556.81,497.30 558.71,518.03 560.62,547.20 562.52,525.54 564.42,516.78 566.33,518.46 568.23,518.47 570.14,498.18 572.04,503.61 573.94,505.96 575.85,512.53 577.75,503.54 579.66,500.56 581.56,495.13 583.46,519.39 585.37,500.15 587.27,499.38 589.18,516.63 591.08,506.39 592.98,496.37 594.89,499.35 596.79,471.60 598.70,493.14 600.60,512.60 602.50,487.37 604.41,505.21 606.31,511.22 608.22,500.15 610.12,503.10 612.02,527.79 613.93,509.16 615.83,516.92 617.74,530.81 619.64,507.81 621.54,524.74 623.45,518.22 625.35,516.81 627.26,509.88 629.16,505.88 631.06,506.85 632.97,513.15 634.87,511.82 636.78,526.02 638.68,500.94 640.58,511.77 642.49,518.71 644.39,498.35 646.30,496.06" fill="none" stroke="#f00" stroke-width="1" stroke-linejoin="miter"/>
<path d="M455.10 548.59H457.80M648.20 548.59H650.90M455.10 544.62H457.80M648.20 544.62H650.90M455.10 540.66H457.80M648.20 540.66H650.90M455.10 532.74H457.80M648.20 532.74H650.90M455.10 528.77H457.80M648.20 528.77H650.90M455.10 524.81H457.80M648.20 524.81H650.90M455.10 516.89H457.80M648.20 516.89H650.90M455.10 512.92H457.80M648.20 512.92H650.90M455.10 508.96H457.80M648.20 508.96H650.90M455.10 501.04H457.80M648.20 501.04H650.90M455.10 497.07H457.80M648.20 497.07H650.90M455.10 493.11H457.80M648.20 493.11H650.90M455.10 485.19H457.80M648.20 485.19H650.90M455.10 481.22H457.80M648.20 481.22H650.90M455.10 477.26H457.80M648.20 477.26H650.90M455.10 469.34H457.80M648.20 469.34H650.90M455.10 465.37H457.80M648.20 465.37H650.90M455.10 461.41H457.80M648.20 461.41H650.90" stroke="#000" stroke-width="0.5" fill="none"/>
<path d="M452.80 552.55H457.80M648.20 552.55H653.20M452.80 536.70H457.80M648.20 536.70H653.20M452.80 520.85H457.80M648.20 520.85H653.20M452.80 505.00H457.80M648.20 505.00H653.20M452.80 489.15H457.80M648.20 489.15H653.20M452.80 473.30H457.80M648.20 473.30H653.20M452.80 457.45H457.80M648.20 457.45H653.20M457.80 452.45V457.45M457.80 552.55V557.55M495.88 452.45V457.45M495.88 552.55V557.55M533.96 452.45V457.45M533.96 552.55V557.55M572.04 452.45V457.45M572.04 552.55V557.55M610.12 452.45V457.45M610.12 552.55V557.55M648.20 452.45V457.45M648.20 552.55V557.55" stroke="#000" stroke-width="1" fill="none"/>
<rect x="457.80" y="457.45" width="190.40" height="95.10" fill="none" stroke="#000" stroke-width="1"/>
<text transform="translate(446.30,556.10) scale(0.975,1)" font-size="10" text-anchor="end" stroke="#000" stroke-width="0.22">288.00</text>
<text transform="translate(446.30,540.25) scale(0.975,1)" font-size="10" text-anchor="end" stroke="#000" stroke-width="0.22">288.20</text>
<text transform="translate(446.30,524.40) scale(0.975,1)" font-size="10" text-anchor="end" stroke="#000" stroke-width="0.22">288.40</text>
<text transform="translate(446.30,508.55) scale(0.975,1)" font-size="10" text-anchor="end" stroke="#000" stroke-width="0.22">288.60</text>
<text transform="translate(446.30,492.70) scale(0.975,1)" font-size="10" text-anchor="end" stroke="#000" stroke-width="0.22">288.80</text>
<text transform="translate(446.30,476.85) scale(0.975,1)" font-size="10" text-anchor="end" stroke="#000" stroke-width="0.22">289.00</text>
<text transform="translate(446.30,461.00) scale(0.975,1)" font-size="10" text-anchor="end" stroke="#000" stroke-width="0.22">289.20</text>
<text transform="translate(457.80,571.85) scale(0.975,1)" font-size="10" text-anchor="middle" stroke="#000" stroke-width="0.22">900</text>
<text transform="translate(495.88,571.85) scale(0.975,1)" font-size="10" text-anchor="middle" stroke="#000" stroke-width="0.22">920</text>
<text transform="translate(533.96,571.85) scale(0.975,1)" font-size="10" text-anchor="middle" stroke="#000" stroke-width="0.22">940</text>
<text transform="translate(572.04,571.85) scale(0.975,1)" font-size="10" text-anchor="middle" stroke="#000" stroke-width="0.22">960</text>
<text transform="translate(610.12,571.85) scale(0.975,1)" font-size="10" text-anchor="middle" stroke="#000" stroke-width="0.22">980</text>
<text transform="translate(648.20,571.85) scale(0.975,1)" font-size="10" text-anchor="middle" stroke="#000" stroke-width="0.22">1000</text>
<text transform="translate(553.00,450.15) scale(0.955,1)" font-size="10.2" text-anchor="middle" stroke="#000" stroke-width="0.22">Layer 8</text>
<text transform="translate(409.80,505.00) rotate(-90)" font-size="10.5" text-anchor="middle" stroke="#000" stroke-width="0.1">K</text>
</g>
<g>
<polyline points="197.00,649.03 198.90,653.37 200.81,651.25 202.71,640.04 204.62,641.39 206.52,635.86 208.42,653.50 210.33,633.44 212.23,629.92 214.14,635.42 216.04,627.32 217.94,639.48 219.85,636.09 221.75,645.99 223.66,653.24 225.56,642.64 227.46,647.00 229.37,634.13 231.27,634.02 233.18,634.48 235.08,638.34 236.98,659.64 238.89,625.26 240.79,634.15 242.70,654.50 244.60,639.25 246.50,651.10 248.41,642.44 250.31,633.42 252.22,634.61 254.12,637.41 256.02,637.22 257.93,659.16 259.83,661.59 261.74,629.62 263.64,651.89 265.54,656.17 267.45,645.21 269.35,635.95 271.26,626.33 273.16,627.34 275.06,627.57 276.97,642.47 278.87,641.62 280.78,631.09 282.68,640.98 284.58,643.62 286.49,647.84 288.39,627.17 290.30,634.41 292.20,636.56 294.10,618.46 296.01,617.92 297.91,641.80 299.82,676.30 301.72,651.14 303.62,641.72 305.53,643.44 307.43,643.57 309.34,620.25 311.24,625.87 313.14,628.42 315.05,636.28 316.95,625.53 318.86,622.41 320.76,615.44 322.66,643.17 324.57,622.92 326.47,620.87 328.38,639.65 330.28,630.53 332.18,617.60 334.09,620.48 335.99,589.60 337.90,610.79 339.80,636.04 341.70,607.55 343.61,626.28 345.51,634.54 347.42,621.70 349.32,624.39 351.22,652.88 353.13,632.95 355.03,640.61 356.94,656.78 358.84,631.86 360.74,649.06 362.65,643.18 364.55,641.15 366.46,633.45 368.36,628.42 370.26,629.64 372.17,636.39 374.07,635.08 375.98,651.64 377.88,623.03 379.78,634.77 381.69,644.07 383.59,619.53 385.50,617.26" fill="none" stroke="#f00" stroke-width="1" stroke-linejoin="miter"/>
<path d="M194.30 678.89H197.00M387.40 678.89H390.10M194.30 674.14H197.00M387.40 674.14H390.10M194.30 669.38H197.00M387.40 669.38H390.10M194.30 659.88H197.00M387.40 659.88H390.10M194.30 655.12H197.00M387.40 655.12H390.10M194.30 650.37H197.00M387.40 650.37H390.10M194.30 640.86H197.00M387.40 640.86H390.10M194.30 636.10H197.00M387.40 636.10H390.10M194.30 631.35H197.00M387.40 631.35H390.10M194.30 621.84H197.00M387.40 621.84H390.10M194.30 617.08H197.00M387.40 617.08H390.10M194.30 612.32H197.00M387.40 612.32H390.10M194.30 602.81H197.00M387.40 602.81H390.10M194.30 598.06H197.00M387.40 598.06H390.10M194.30 593.30H197.00M387.40 593.30H390.10" stroke="#000" stroke-width="0.5" fill="none"/>
<path d="M192.00 683.65H197.00M387.40 683.65H392.40M192.00 664.63H197.00M387.40 664.63H392.40M192.00 645.61H197.00M387.40 645.61H392.40M192.00 626.59H197.00M387.40 626.59H392.40M192.00 607.57H197.00M387.40 607.57H392.40M192.00 588.55H197.00M387.40 588.55H392.40M197.00 583.55V588.55M197.00 683.65V688.65M235.08 583.55V588.55M235.08 683.65V688.65M273.16 583.55V588.55M273.16 683.65V688.65M311.24 583.55V588.55M311.24 683.65V688.65M349.32 583.55V588.55M349.32 683.65V688.65M387.40 583.55V588.55M387.40 683.65V688.65" stroke="#000" stroke-width="1" fill="none"/>
<rect x="197.00" y="588.55" width="190.40" height="95.10" fill="none" stroke="#000" stroke-width="1"/>
<text transform="translate(185.50,687.20) scale(0.975,1)" font-size="10" text-anchor="end" stroke="#000" stroke-width="0.22">288.00</text>
<text transform="translate(185.50,668.18) scale(0.975,1)" font-size="10" text-anchor="end" stroke="#000" stroke-width="0.22">288.20</text>
<text transform="translate(185.50,649.16) scale(0.975,1)" font-size="10" text-anchor="end" stroke="#000" stroke-width="0.22">288.40</text>
<text transform="translate(185.50,630.14) scale(0.975,1)" font-size="10" text-anchor="end" stroke="#000" stroke-width="0.22">288.60</text>
<text transform="translate(185.50,611.12) scale(0.975,1)" font-size="10" text-anchor="end" stroke="#000" stroke-width="0.22">288.80</text>
<text transform="translate(185.50,592.10) scale(0.975,1)" font-size="10" text-anchor="end" stroke="#000" stroke-width="0.22">289.00</text>
<text transform="translate(197.00,702.95) scale(0.975,1)" font-size="10" text-anchor="middle" stroke="#000" stroke-width="0.22">900</text>
<text transform="translate(235.08,702.95) scale(0.975,1)" font-size="10" text-anchor="middle" stroke="#000" stroke-width="0.22">920</text>
<text transform="translate(273.16,702.95) scale(0.975,1)" font-size="10" text-anchor="middle" stroke="#000" stroke-width="0.22">940</text>
<text transform="translate(311.24,702.95) scale(0.975,1)" font-size="10" text-anchor="middle" stroke="#000" stroke-width="0.22">960</text>
<text transform="translate(349.32,702.95) scale(0.975,1)" font-size="10" text-anchor="middle" stroke="#000" stroke-width="0.22">980</text>
<text transform="translate(387.40,702.95) scale(0.975,1)" font-size="10" text-anchor="middle" stroke="#000" stroke-width="0.22">1000</text>
<text transform="translate(292.20,581.25) scale(0.955,1)" font-size="10.2" text-anchor="middle" stroke="#000" stroke-width="0.22">Layer 9</text>
<text transform="translate(149.00,636.10) rotate(-90)" font-size="10.5" text-anchor="middle" stroke="#000" stroke-width="0.1">K</text>
</g>
<g>
<polyline points="457.80,648.60 459.70,652.00 461.61,651.10 463.51,640.75 465.42,641.70 467.32,636.10 469.22,651.10 471.13,634.80 473.03,629.80 474.94,635.10 476.84,627.60 478.74,639.20 480.65,636.40 482.55,644.50 484.46,651.70 486.36,643.60 488.26,646.10 490.17,636.10 492.07,632.90 493.98,635.75 495.88,636.40 497.78,658.60 499.69,627.60 501.59,632.00 503.50,653.60 505.40,638.40 507.30,650.10 509.21,642.00 511.11,634.50 513.02,634.20 514.92,638.25 516.82,635.75 518.73,657.30 520.63,661.40 522.54,628.90 524.44,650.75 526.34,655.40 528.25,645.10 530.15,637.00 532.06,627.00 533.96,626.70 535.86,627.00 537.77,641.10 539.67,642.00 541.58,630.40 543.48,640.10 545.38,642.60 547.29,648.10 549.19,628.60 551.10,632.60 553.00,636.00 554.90,619.80 556.81,617.60 558.71,640.10 560.62,673.90 562.52,649.90 564.42,642.00 566.33,643.30 568.23,643.60 570.14,621.70 572.04,626.10 573.94,628.25 575.85,636.10 577.75,625.40 579.66,622.90 581.56,615.30 583.46,641.10 585.37,624.80 587.27,621.20 589.18,637.30 591.08,632.60 592.98,618.40 594.89,620.30 596.79,592.80 598.70,607.50 600.60,635.40 602.50,609.40 604.41,624.40 606.31,634.10 608.22,621.90 610.12,623.40 612.02,650.30 613.93,633.75 615.83,639.10 617.74,654.60 619.64,633.40 621.54,646.25 623.45,643.10 625.35,640.60 627.26,633.75 629.16,628.40 631.06,629.70 632.97,635.30 634.87,634.40 636.78,650.30 638.68,623.75 640.58,633.75 642.49,644.40 644.39,619.70 646.30,618.10" fill="none" stroke="#f00" stroke-width="1" stroke-linejoin="miter"/>
<path d="M455.10 678.89H457.80M648.20 678.89H650.90M455.10 674.14H457.80M648.20 674.14H650.90M455.10 669.38H457.80M648.20 669.38H650.90M455.10 659.88H457.80M648.20 659.88H650.90M455.10 655.12H457.80M648.20 655.12H650.90M455.10 650.37H457.80M648.20 650.37H650.90M455.10 640.86H457.80M648.20 640.86H650.90M455.10 636.10H457.80M648.20 636.10H650.90M455.10 631.35H457.80M648.20 631.35H650.90M455.10 621.84H457.80M648.20 621.84H650.90M455.10 617.08H457.80M648.20 617.08H650.90M455.10 612.32H457.80M648.20 612.32H650.90M455.10 602.81H457.80M648.20 602.81H650.90M455.10 598.06H457.80M648.20 598.06H650.90M455.10 593.30H457.80M648.20 593.30H650.90" stroke="#000" stroke-width="0.5" fill="none"/>
<path d="M452.80 683.65H457.80M648.20 683.65H653.20M452.80 664.63H457.80M648.20 664.63H653.20M452.80 645.61H457.80M648.20 645.61H653.20M452.80 626.59H457.80M648.20 626.59H653.20M452.80 607.57H457.80M648.20 607.57H653.20M452.80 588.55H457.80M648.20 588.55H653.20M457.80 583.55V588.55M457.80 683.65V688.65M495.88 583.55V588.55M495.88 683.65V688.65M533.96 583.55V588.55M533.96 683.65V688.65M572.04 583.55V588.55M572.04 683.65V688.65M610.12 583.55V588.55M610.12 683.65V688.65M648.20 583.55V588.55M648.20 683.65V688.65" stroke="#000" stroke-width="1" fill="none"/>
<rect x="457.80" y="588.55" width="190.40" height="95.10" fill="none" stroke="#000" stroke-width="1"/>
<text transform="translate(446.30,687.20) scale(0.975,1)" font-size="10" text-anchor="end" stroke="#000" stroke-width="0.22">288.00</text>
<text transform="translate(446.30,668.18) scale(0.975,1)" font-size="10" text-anchor="end" stroke="#000" stroke-width="0.22">288.20</text>
<text transform="translate(446.30,649.16) scale(0.975,1)" font-size="10" text-anchor="end" stroke="#000" stroke-width="0.22">288.40</text>
<text transform="translate(446.30,630.14) scale(0.975,1)" font-size="10" text-anchor="end" stroke="#000" stroke-width="0.22">288.60</text>
<text transform="translate(446.30,611.12) scale(0.975,1)" font-size="10" text-anchor="end" stroke="#000" stroke-width="0.22">288.80</text>
<text transform="translate(446.30,592.10) scale(0.975,1)" font-size="10" text-anchor="end" stroke="#000" stroke-width="0.22">289.00</text>
<text transform="translate(457.80,702.95) scale(0.975,1)" font-size="10" text-anchor="middle" stroke="#000" stroke-width="0.22">900</text>
<text transform="translate(495.88,702.95) scale(0.975,1)" font-size="10" text-anchor="middle" stroke="#000" stroke-width="0.22">920</text>
<text transform="translate(533.96,702.95) scale(0.975,1)" font-size="10" text-anchor="middle" stroke="#000" stroke-width="0.22">940</text>
<text transform="translate(572.04,702.95) scale(0.975,1)" font-size="10" text-anchor="middle" stroke="#000" stroke-width="0.22">960</text>
<text transform="translate(610.12,702.95) scale(0.975,1)" font-size="10" text-anchor="middle" stroke="#000" stroke-width="0.22">980</text>
<text transform="translate(648.20,702.95) scale(0.975,1)" font-size="10" text-anchor="middle" stroke="#000" stroke-width="0.22">1000</text>
<text transform="translate(553.00,581.25) scale(0.955,1)" font-size="10.2" text-anchor="middle" stroke="#000" stroke-width="0.22">Layer 10</text>
<text transform="translate(409.80,636.10) rotate(-90)" font-size="10.5" text-anchor="middle" stroke="#000" stroke-width="0.1">K</text>
</g>
<line x1="243.85" y1="742" x2="340.6" y2="742" stroke="#00f" stroke-width="0.62" stroke-dasharray="12.2 11.53"/>
<text transform="translate(343.10,745.20)" font-size="9.65" stroke="#000" stroke-width="0.22">No Obs</text>
<line x1="243.85" y1="778" x2="340.6" y2="778" stroke="#f00" stroke-width="0.62"/>
<text transform="translate(343.00,780.30)" font-size="9.67" stroke="#000" stroke-width="0.22">b.e21.B1850.f19_g17.CMIP6-piControl-2deg.002</text>
</svg>
</body></html>
